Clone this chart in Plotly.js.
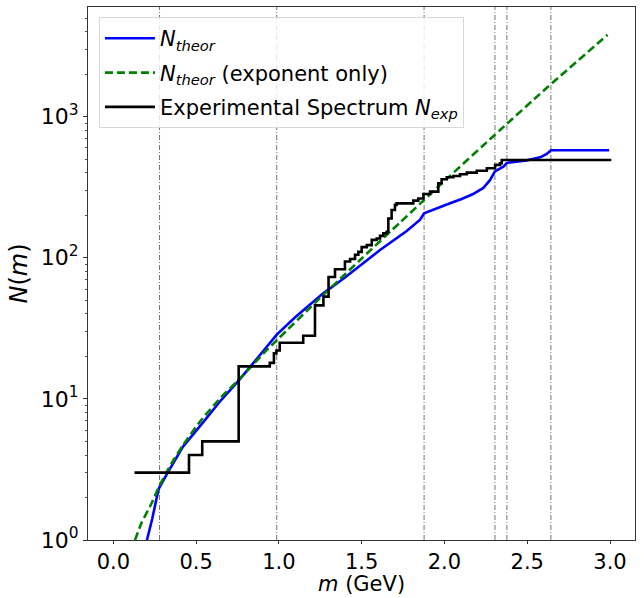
<!DOCTYPE html>
<html>
<head>
<meta charset="utf-8">
<script src="https://cdn.plot.ly/plotly-3.0.1.min.js"></script>
<style>html,body{margin:0;padding:0;background:#fff;}#plot{width:644px;height:598px;}</style>
</head>
<body>
<div id="plot"></div>
<script>
// N_theor (full)
var theorM = [0.203, 0.235, 0.262, 0.277, 0.332, 0.42, 0.553, 0.65, 0.765, 0.9, 0.987, 1.1, 1.268, 1.399, 1.611, 1.772, 1.853, 1.877, 1.95, 2.03, 2.10, 2.17, 2.235, 2.275, 2.305, 2.356, 2.377, 2.497, 2.578, 2.618, 2.643, 2.995];
var theorLogN = [0.00, 0.15, 0.30, 0.37, 0.484, 0.66, 0.85, 0.99, 1.14, 1.33, 1.455, 1.58, 1.748, 1.86, 2.055, 2.19, 2.27, 2.315, 2.35, 2.385, 2.415, 2.45, 2.495, 2.55, 2.612, 2.646, 2.672, 2.69, 2.712, 2.736, 2.762, 2.762];
// N_theor (exponent only)
var expoM = [0.131, 0.17, 0.231, 0.277, 0.35, 0.42, 0.524, 0.65, 0.765, 0.926, 1.0, 1.218, 1.37, 1.5, 1.732, 1.873, 2.024, 2.336, 2.6, 2.985];
var expoLogN = [0.00, 0.12, 0.26, 0.38, 0.54, 0.67, 0.84, 1.01, 1.145, 1.345, 1.43, 1.68, 1.85, 1.995, 2.25, 2.405, 2.57, 2.905, 3.185, 3.58];
// Experimental spectrum (cumulative step)
var expM = [0.128, 0.457, 0.537, 0.757, 0.945, 0.97, 0.985, 1.005, 1.147, 1.218, 1.269, 1.30, 1.339, 1.399, 1.43, 1.46, 1.48, 1.50, 1.531, 1.561, 1.591, 1.611, 1.631, 1.651, 1.661, 1.681, 1.701, 1.711, 1.812, 1.842, 1.873, 1.913, 1.963, 1.983, 2.014, 2.054, 2.094, 2.135, 2.195, 2.256, 2.306, 2.336, 2.346, 3.0];
var expN = [3, 4, 5, 17, 18, 21, 22, 25, 28, 46, 53, 73, 83, 94, 98, 105, 110, 119, 123, 134, 137, 143, 149, 153, 190, 218, 237, 243, 254, 263, 283, 294, 337, 360, 372, 380, 391, 401, 414, 431, 455, 468, 493, 503];
// Thresholds (vertical lines)
var thresholds = [0.279, 0.987, 1.877, 2.305, 2.377, 2.643];
// Tick labels
var yTickVals = [1, 10, 100, 1000];
var yTickText = ['10<sup>0</sup>', '10<sup>1</sup>', '10<sup>2</sup>', '10<sup>3</sup>'];

function pow10(a){ return a.map(function(v){ return Math.pow(10, v); }); }
var minorVals = [];
[1, 10, 100, 1000].forEach(function(d){ for (var k = 2; k <= 9; k++) minorVals.push(k * d); });

var traces = [
  {x: theorM, y: pow10(theorLogN), mode: 'lines', name: '<i>N</i><sub><i>theor</i></sub>',
   legendgroup: 'a', line: {color: '#0000ff', width: 2.6}},
  {x: expoM, y: pow10(expoLogN), mode: 'lines', legendgroup: 'b',
   line: {color: '#008000', width: 2.6, dash: '8px,4px', shape: 'spline', smoothing: 0.6},
   name: '<i>N</i><sub><i>theor</i></sub> (exponent only)'},
  {x: expM, y: expN, mode: 'lines', legendgroup: 'c', line: {color: '#000000', width: 2.6, shape: 'hv'},
   name: 'Experimental Spectrum <i>N</i><sub><i>exp</i></sub>'}
];

var shapes = thresholds.map(function(t){
  return {type: 'line', xref: 'x', yref: 'paper', x0: t, x1: t, y0: 0, y1: 1,
          line: {color: 'rgba(60,60,60,0.7)', width: 1, dash: '5px,2px,1px,2px'}, layer: 'below'};
});

var font = 'DejaVu Sans, sans-serif';
var layout = {
  width: 644, height: 598,
  margin: {l: 88, r: 9, t: 7, b: 58},
  paper_bgcolor: '#fff', plot_bgcolor: '#fff',
  font: {family: font, color: '#000', size: 22},
  showlegend: true,
  legend: {x: 0.02, y: 0.981, xanchor: 'left', yanchor: 'top',
           bgcolor: 'rgba(255,255,255,0.8)', bordercolor: '#d8d8d8', borderwidth: 1,
           itemwidth: 50, tracegroupgap: 4,
           font: {family: font, size: 21, color: '#000'}},
  xaxis: {range: [-0.153, 3.151], dtick: 0.5, tick0: 0, tickformat: '.1f',
          ticks: 'outside', ticklen: 3, tickwidth: 1, tickcolor: '#333',
          showline: true, linecolor: '#333', linewidth: 1, mirror: true,
          showgrid: false, zeroline: false, ticklabelstandoff: 0,
          tickfont: {family: font, size: 21}},
  yaxis: {type: 'log', range: [0, 3.777], tickvals: yTickVals, ticktext: yTickText,
          ticks: 'outside', ticklen: 4, tickwidth: 1, tickcolor: '#333',
          minor: {tickvals: minorVals, ticks: 'outside', ticklen: 2, tickcolor: '#555', showgrid: false},
          showline: true, linecolor: '#333', linewidth: 1, mirror: true,
          showgrid: false, zeroline: false,
          tickfont: {family: font, size: 22},
          title: {text: '<i>N</i>(<i>m</i>)', font: {family: font, size: 24}, standoff: 6}},
  annotations: [{text: '<i>m</i> (GeV)', xref: 'paper', yref: 'paper', x: 0.5, y: -0.0585,
                 xanchor: 'center', yanchor: 'top', showarrow: false, borderpad: 0,
                 font: {family: font, size: 21, color: '#000'}}],
  shapes: shapes
};

Plotly.newPlot('plot', traces, layout, {displayModeBar: false, staticPlot: true});
</script>
</body>
</html>
